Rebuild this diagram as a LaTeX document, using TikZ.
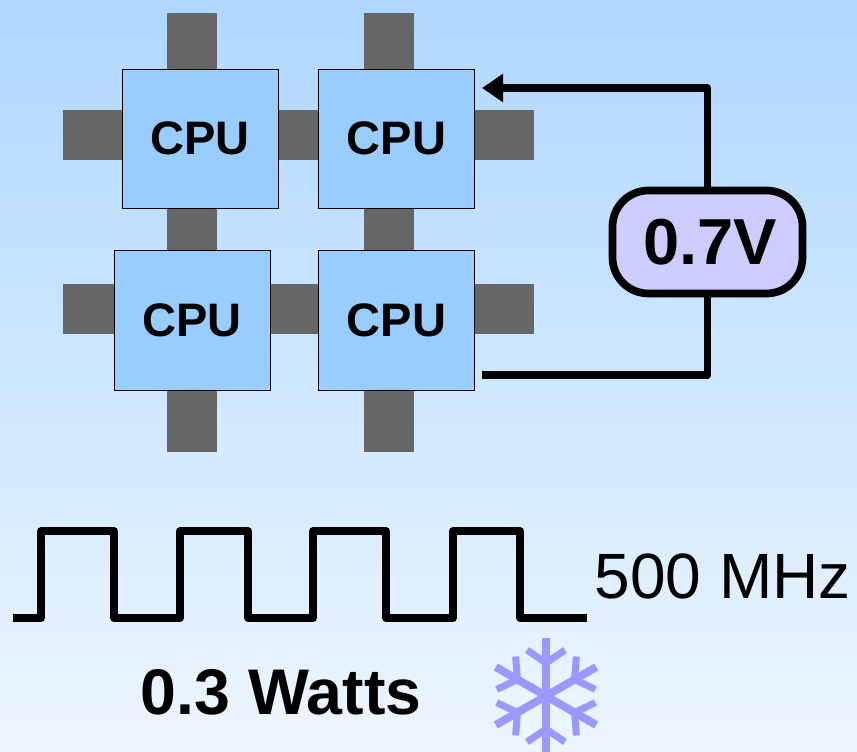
\documentclass[tikz,border=0pt]{standalone}
\usepackage{fontspec}
\setmainfont{Liberation Sans}
\usetikzlibrary{arrows.meta}
\definecolor{cpublue}{HTML}{99CCFF}
\definecolor{skytop}{HTML}{AFD7FF}
\definecolor{skybottom}{HTML}{EDF6FF}
\definecolor{voltfill}{HTML}{CCCCFF}
\definecolor{flake}{HTML}{9999FF}
\definecolor{portgray}{HTML}{666666}

\begin{document}
\begin{tikzpicture}
 [x=1pt, y=-1pt,
  cpu node/.style={node distance=197pt, draw=black, fill=cpublue, inner sep=0pt, outer sep=0pt, minimum width=156pt, minimum height=139.5pt, font=\fontsize{47}{47}\selectfont\bfseries},
  port node/.style={fill=portgray, inner sep=0pt, outer sep=0pt},
  volt node/.style={draw=black, line width=7.7pt, fill=voltfill, rounded corners=36pt, inner sep=0pt, minimum width=190pt, minimum height=103pt, font=\fontsize{65}{65}\selectfont\bfseries},
  big text/.style={inner sep=0pt, anchor=base west, font=\fontsize{64}{64}\selectfont},
  wire/.style={line width=7.7pt, line join=round}]

\useasboundingbox (0,0) rectangle (857,752);
\shade[top color=skytop, bottom color=skybottom] (0,0) rectangle (857,752);

% ports, top row
\node[port node, minimum width=50pt, minimum height=56pt] (p1) at (192,41) {};
\node[port node, minimum width=50pt, minimum height=56pt] (p2) at (389,41) {};
\node[port node, minimum width=59pt, minimum height=50pt] (p3) at (92.5,135) {};
\node[port node, minimum width=40pt, minimum height=50pt] (p4) at (298,135) {};
\node[port node, minimum width=59pt, minimum height=50pt] (p5) at (504,135) {};
\node[port node, minimum width=50pt, minimum height=42pt] (p6) at (192,229) {};
\node[port node, minimum width=50pt, minimum height=42pt] (p7) at (389,229) {};
% ports, bottom row
\node[port node, minimum width=51pt, minimum height=50pt] (p8) at (88.5,309) {};
\node[port node, minimum width=48pt, minimum height=50pt] (p9) at (294,309) {};
\node[port node, minimum width=59pt, minimum height=50pt] (p10) at (504,309) {};
\node[port node, minimum width=50pt, minimum height=62pt] (p11) at (192,421) {};
\node[port node, minimum width=50pt, minimum height=62pt] (p12) at (389,421) {};

\node[cpu node] (1) at (200,138.5) {CPU};
\node[cpu node] (2) at (396.5,138.5) {CPU};
\node[cpu node] (3) at (192,320) {CPU};
\node[cpu node] (4) at (396.5,320) {CPU};

\node[volt node] (v) at (707.5,242) {\hspace*{5pt}0.7V};

\coordinate (in) at (482,88);
\coordinate (out) at (482,375);

\draw[wire, -{Triangle[length=21pt,width=27pt]}] (v.north) -- (v.north |- in) -- (in);
\draw[wire] (v.south) -- (v.south |- out) -- (out);

% clock
\draw[wire] (13,618) -- (41,618) -- (41,531) -- (114,531) -- (114,618) -- (180,618) -- (180,531)
  -- (248,531) -- (248,618) -- (313,618) -- (313,531) -- (386,531) -- (386,618) -- (453,618)
  -- (453,531) -- (520,531) -- (520,618) -- (587,618);

\node[big text] (f) at (594.5,598) {500 MHz};
\node[big text, font=\fontsize{64.5}{64.5}\selectfont\bfseries] (w) at (140.5,714) {0.3 Watts};

% snowflake
\begin{scope}[shift={(546,696)}, flake]
  \foreach \a in {0,60,...,300} {
    \draw[rotate=\a, line width=8pt] (0,0) -- (0,-58);
    \draw[rotate=\a, line width=7pt] (-19,-46) -- (0,-33) -- (19,-46);
  }
\end{scope}
\end{tikzpicture}
\end{document}
